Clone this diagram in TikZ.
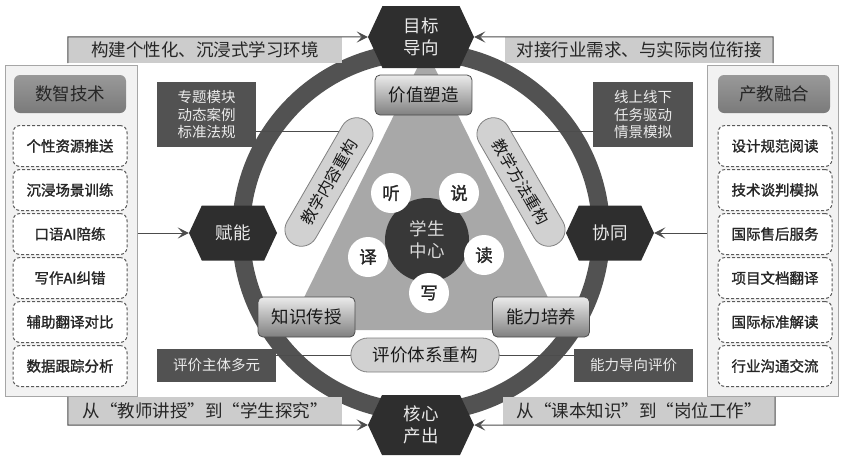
\documentclass[tikz,border=0pt]{standalone}
\usepackage{fontspec}
\setmainfont{Noto Sans CJK SC}[AutoFakeBold=1.4]
\usetikzlibrary{shapes.symbols,shapes.misc,arrows.meta,shadings}
\newcommand\szL{\fontsize{17.5pt}{22pt}\selectfont}
\newcommand\szM{\fontsize{14.5pt}{17.5pt}\selectfont}
\newcommand\szP{\fontsize{16pt}{18pt}\selectfont}
\begin{document}
\begin{tikzpicture}[x=1pt,y=-1pt,
  hexa/.style={signal, signal to=east and west, signal pointer angle=130,
    fill=black!82, text=black!8, inner sep=0pt, font=\szL, align=center},
  banner/.style={fill=black!20, inner sep=0pt, font=\szL, text=black!85},
  panel/.style={fill=black!5, draw=black!35, line width=1pt, inner sep=0pt},
  header/.style={rounded corners=6pt, top color=black!40, bottom color=black!52,
    minimum width=112pt, minimum height=38pt, font=\szL, text=black!85},
  item/.style={rounded corners=7pt, draw=black!65, dash pattern=on 3pt off 2pt,
    line width=1pt, fill=white, minimum width=114pt, minimum height=41pt,
    font=\szM\bfseries, text=black!85},
  darkbox/.style={fill=black!68, text=black!8, font=\szM, align=center, inner sep=0pt},
  grad/.style={rounded corners=5pt, top color=black!8, bottom color=black!50,
    draw=black!70, line width=0.8pt, minimum width=97pt, minimum height=40pt,
    font=\szL, text=black!90},
  pill/.style={rounded rectangle, fill=black!18, draw=black!50, line width=0.8pt,
    minimum height=33pt, text=black!90},
  sc/.style={circle, fill=white, minimum size=40pt, inner sep=0pt, font=\szL\bfseries, text=black!85},
  link/.style={draw=black!70, line width=0.8pt},
  arr/.style={link, line width=1pt, -{Stealth[length=11pt,width=11pt,inset=5pt]}}
]
\useasboundingbox (0,0) rectangle (845,456);

% ring
\draw[line width=18pt, black!68] (421,232) circle[radius=180];

% triangle
\fill[black!34] (426,50) -- (564,330) -- (288,330) -- cycle;

% banners
\node[banner, minimum width=274pt, minimum height=26pt] (bTL) at (205,50) {构建个性化、沉浸式学习环境};
\node[banner, minimum width=268pt, minimum height=26pt] (bTR) at (639,50) {对接行业需求、与实际岗位衔接};
\node[banner, minimum width=274pt, minimum height=28pt] (bBL) at (205,411) {从“教师讲授”到“学生探究”};
\node[banner, minimum width=272pt, minimum height=28pt] (bBR) at (639,411) {从“课本知识”到“岗位工作”};

% panels
\node[panel, minimum width=132pt, minimum height=331pt] (lp) at (71,230.5) {};
\node[panel, minimum width=131pt, minimum height=331pt] (rp) at (772.5,230.5) {};
\node[header] (lh) at (70,94) {数智技术};
\node[header] (rh) at (774,94) {产教融合};
\node[item] (i1) at (70,146) {个性资源推送};
\node[item] (i2) at (70,190) {沉浸场景训练};
\node[item] (i3) at (70,234) {口语AI陪练};
\node[item] (i4) at (70,278) {写作AI纠错};
\node[item] (i5) at (70,322) {辅助翻译对比};
\node[item] (i6) at (70,366) {数据跟踪分析};
\node[item] (j1) at (775,146) {设计规范阅读};
\node[item] (j2) at (775,190) {技术谈判模拟};
\node[item] (j3) at (775,234) {国际售后服务};
\node[item] (j4) at (775,278) {项目文档翻译};
\node[item] (j5) at (775,322) {国际标准解读};
\node[item] (j6) at (775,366) {行业沟通交流};

% hexagons
\node[hexa, minimum width=106pt, minimum height=62pt] (hT) at (421,37) {目标\\导向};
\node[hexa, minimum width=106pt, minimum height=60pt] (hB) at (421,425) {核心\\产出};
\node[hexa, minimum width=88pt, minimum height=55pt] (hL) at (233,233) {赋能};
\node[hexa, minimum width=88pt, minimum height=55pt] (hR) at (610,233) {协同};

% banner arrows
\draw[arr] (bTL.south west) -- (bTL.north west) -- (hT.west);
\draw[arr] (bTR.south east) -- (bTR.north east) -- (hT.east);
\draw[arr] (bBL.north west) -- (bBL.south west) -- (hB.west);
\draw[arr] (bBR.north east) -- (bBR.south east) -- (hB.east);

% panel arrows
\draw[arr] (lp.east |- hL.west) -- (hL.west);
\draw[arr] (rp.west |- hR.east) -- (hR.east);

% dark boxes
\node[darkbox, minimum width=99pt, minimum height=65pt] (d1) at (206.5,114.5) {专题模块\\动态案例\\标准法规};
\node[darkbox, minimum width=100pt, minimum height=65pt] (d2) at (643,114.5) {线上线下\\任务驱动\\情景模拟};
\node[darkbox, minimum width=119pt, minimum height=33pt] (d3) at (216.5,365.5) {评价主体多元};
\node[darkbox, minimum width=119pt, minimum height=33pt] (d4) at (633.5,365.5) {能力导向评价};

\coordinate (cL) at (358,131);
\coordinate (cR) at (492,131);
\coordinate (cB) at (425,355);
\draw[link] (d1.east |- cL) -- (cL);
\draw[link] (d2.west |- cR) -- (cR);
\draw[link] (d3.east |- cB) -- (cB);
\draw[link] (d4.west |- cB) -- (cB);

% pills
\node[pill, rotate=60, minimum width=150pt, font=\szP] (pillL) at (329,182) {教学内容重构};
\node[pill, rotate=-60, minimum width=150pt, font=\szP] (pillR) at (521,182) {教学方法重构};
\node[pill, minimum width=155pt, minimum height=34pt, font=\szL] (pillB) at (425,355) {评价体系重构};

% gradient boxes
\node[grad] (g1) at (423.5,95) {价值塑造};
\node[grad] (g2) at (306.5,317) {知识传授};
\node[grad] (g3) at (541,317) {能力培养};

% centre
\node[circle, fill=black!78, minimum size=84pt, inner sep=0pt, align=center,
  font=\szL, text=black!15] (c0) at (427,240) {学生\\中心};
\node[sc] (s1) at (391,193) {听};
\node[sc] (s2) at (459,193) {说};
\node[sc] (s3) at (368,257) {译};
\node[sc] (s4) at (484,255) {读};
\node[sc] (s5) at (429,293) {写};
\end{tikzpicture}
\end{document}
